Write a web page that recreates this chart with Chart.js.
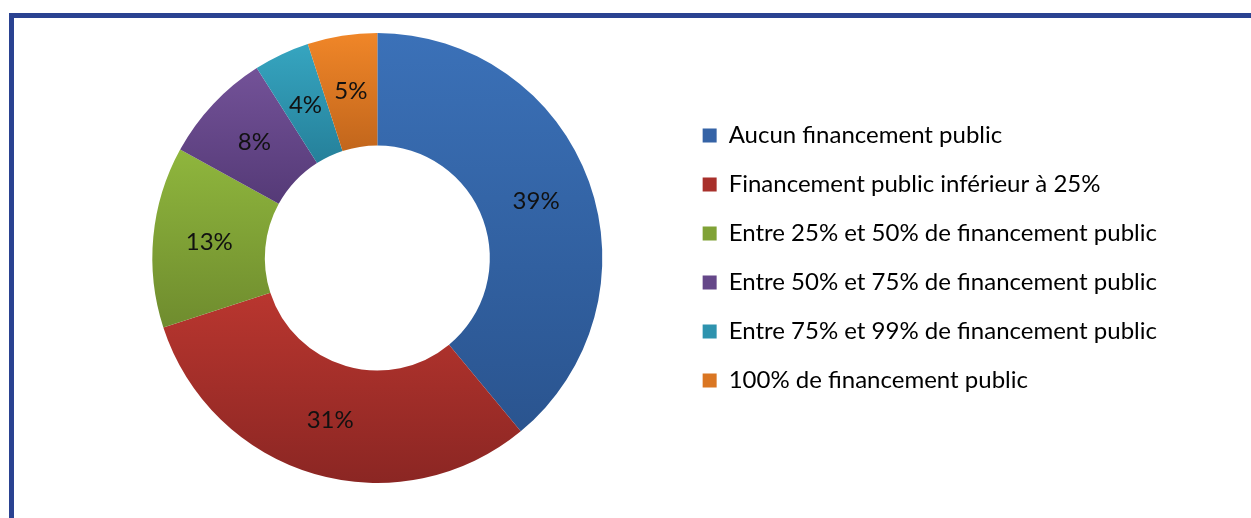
<!DOCTYPE html>
<html>
<head>
<meta charset="utf-8">
<script src="https://cdn.jsdelivr.net/npm/chart.js@4.4.1/dist/chart.umd.min.js"></script>
<style>
    html, body { margin: 0; padding: 0; background: #fff; }
    #wrap { position: relative; width: 1251px; height: 518px; overflow: hidden; }
    #cadre { position: absolute; left: 9px; top: 13px; width: 1300px; height: 600px;
             border-top: 5px solid #2a4291; border-left: 5px solid #2a4291; }
    #graphe { position: absolute; left: 0; top: 0; }
</style>
</head>
<body>
<div id="wrap">
    <div id="cadre"></div>
    <canvas id="graphe" width="1251" height="518"></canvas>
</div>
<script>
// données du graphique
var categories = [
    'Aucun financement public',
    'Financement public inférieur à 25%',
    'Entre 25% et 50% de financement public',
    'Entre 50% et 75% de financement public',
    'Entre 75% et 99% de financement public',
    '100% de financement public'
];
var valeurs = [39, 31, 13, 8, 4, 5];
var etiquettes = ['39%', '31%', '13%', '8%', '4%', '5%'];

// couleurs (dégradé haut -> bas de chaque part)
var couleursHaut = ['#3b71b8', '#b9362f', '#8fb63d', '#735298', '#36a5c0', '#f08628'];
var couleursBas = ['#2a548f', '#8b2623', '#6f8c2e', '#553a77', '#25809a', '#c2661c'];
var couleursLegende = ['#3563a6', '#a8302b', '#80a236', '#654789', '#2e93ae', '#da7622'];

var policeTexte = 'Lato, "Open Sans", sans-serif';

// dégradé vertical propre à chaque part, calculé depuis les valeurs
function degradePart(context) {
    var chart = context.chart;
    var zone = chart.chartArea;
    var i = context.dataIndex;
    if (!zone || context.type !== 'data') {
        return couleursHaut[i] || couleursHaut[0];
    }
    var total = valeurs.reduce(function (a, b) { return a + b; }, 0);
    var cumul = 0;
    for (var k = 0; k < i; k++) { cumul += valeurs[k]; }
    var debut = cumul / total * Math.PI * 2 - Math.PI / 2;
    var fin = (cumul + valeurs[i]) / total * Math.PI * 2 - Math.PI / 2;
    var cy = (zone.top + zone.bottom) / 2;
    var rExt = Math.min(zone.width, zone.height) / 2;
    var rInt = rExt * 0.5;
    var yMin = Infinity, yMax = -Infinity;
    for (var n = 0; n <= 40; n++) {
        var a = debut + (fin - debut) * n / 40;
        [rExt, rInt].forEach(function (r) {
            var y = cy + Math.sin(a) * r;
            yMin = Math.min(yMin, y);
            yMax = Math.max(yMax, y);
        });
    }
    var g = chart.ctx.createLinearGradient(0, yMin, 0, yMax);
    g.addColorStop(0, couleursHaut[i]);
    g.addColorStop(1, couleursBas[i]);
    return g;
}

// pourcentages au milieu des parts
var pluginEtiquettes = {
    id: 'etiquettes',
    afterDatasetsDraw: function (chart) {
        var ctx = chart.ctx;
        var meta = chart.getDatasetMeta(0);
        ctx.save();
        ctx.font = '24px ' + policeTexte;
        ctx.fillStyle = '#111111';
        ctx.textAlign = 'center';
        ctx.textBaseline = 'middle';
        meta.data.forEach(function (arc, i) {
            var p = arc.getCenterPoint();
            ctx.fillText(etiquettes[i], p.x, p.y);
        });
        ctx.restore();
    }
};

Chart.defaults.font.family = policeTexte;
Chart.defaults.color = '#000000';

var ctx1 = document.getElementById('graphe').getContext('2d');
var grapheFinancement = new Chart(ctx1, {
    type: 'doughnut',
    data: {
        labels: categories,
        datasets: [
            {
                data: valeurs,
                backgroundColor: degradePart,
                borderWidth: 0,
                hoverOffset: 0
            }
        ]
    },
    options: {
        responsive: false,
        animation: false,
        cutout: '50%',
        layout: {
            padding: { top: 33, bottom: 35, left: 77, right: 84 }
        },
        plugins: {
            tooltip: { enabled: false },
            legend: {
                position: 'right',
                align: 'center',
                labels: {
                    boxWidth: 14,
                    boxHeight: 14,
                    padding: 25,
                    font: { size: 24, family: policeTexte },
                    color: '#000000',
                    generateLabels: function (chart) {
                        return categories.map(function (c, i) {
                            return {
                                text: c,
                                fillStyle: couleursLegende[i],
                                strokeStyle: couleursLegende[i],
                                lineWidth: 0,
                                hidden: false,
                                index: i
                            };
                        });
                    }
                }
            }
        }
    },
    plugins: [pluginEtiquettes]
});
</script>
</body>
</html>
